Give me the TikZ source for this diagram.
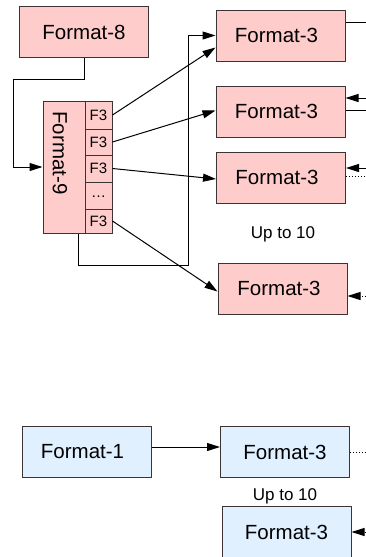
\documentclass[tikz,border=0pt]{standalone}
\usepackage{fontspec}
\setmainfont{Liberation Sans}
\usetikzlibrary{arrows.meta}
\definecolor{pinkfill}{HTML}{FFCCCC}
\definecolor{bluefill}{HTML}{E0F0FF}
\definecolor{edgecol}{HTML}{3C3434}

\begin{document}
\begin{tikzpicture}[x=1pt,y=-1pt,
  fmtbox/.style={draw=edgecol, line width=1pt, minimum width=129pt, minimum height=51pt,
    inner sep=0pt, font=\fontsize{20.5}{24}\selectfont},
  pinkbox/.style={fmtbox, fill=pinkfill},
  bluebox/.style={fmtbox, fill=bluefill},
  cellbox/.style={draw=edgecol, line width=1pt, fill=pinkfill, minimum width=27pt,
    inner sep=0pt, font=\fontsize{15}{18}\selectfont},
  conn/.style={line width=1pt, -{Triangle[length=13pt,width=8pt]}},
  link/.style={line width=1pt},
  dotlink/.style={line width=1pt, dotted},
  dotconn/.style={line width=1pt, dotted, -{Triangle[length=13pt,width=8pt,sep=0pt]}},
  note/.style={font=\fontsize{17}{20}\selectfont}]

\useasboundingbox (0,0) rectangle (366,557);

% upper group
\node[pinkbox] (f8) at (84,32) {Format-8};

\node[draw=edgecol, line width=1pt, fill=pinkfill, minimum width=42pt, minimum height=132pt,
  inner sep=0pt] (f9) at (64,167) {};
\node[rotate=-90, font=\fontsize{20.5}{24}\selectfont] (f9text) at (60,153) {Format-9};

\node[cellbox, minimum height=28pt] (c1) at (98.5,115) {F3};
\node[cellbox, minimum height=26pt] (c2) at (98.5,142) {F3};
\node[cellbox, minimum height=27pt] (c3) at (98.5,168.5) {F3};
\node[cellbox, minimum height=27pt] (c4) at (98.5,195.5) {\raisebox{-3pt}{…}};
\node[cellbox, minimum height=24pt] (c5) at (98.5,221) {F3};

\node[pinkbox] (t1) at (280.5,35.5) {\hspace*{-8pt}Format-3};
\node[pinkbox] (t2) at (280.5,111.5) {\hspace*{-8pt}Format-3};
\node[pinkbox] (t3) at (281,177.5) {\hspace*{-8pt}Format-3};
\node[note] (n1) at (283,234) {Up to 10};
\node[pinkbox] (t4) at (282.5,288.5) {\hspace*{-7pt}Format-3};

% Format-8 feeds Format-9
\coordinate (k1) at (13,79);
\draw[conn] (f8.south) -- (f8.south |- k1) -- (k1) -- (k1 |- f9.west) -- (f9.west);

% loop back from Format-9 to the first Format-3
\coordinate (k2) at (188,265);
\draw[conn] ([xshift=14pt]f9.south) -- ([xshift=14pt]f9.south |- k2) -- (k2)
  -- (k2 |- t1.west) -- (t1.west);

% F3 cells to the Format-3 boxes
\draw[conn] (c1.east) -- ([yshift=-12pt]t1.west);
\draw[conn] (c2.east) -- ([yshift=1pt]t2.west);
\draw[conn] (c3.east) -- ([yshift=-1.5pt]t3.west);
\draw[conn] (c5.east) -- ([yshift=-3pt]t4.west);

% links leaving to the right
\coordinate (r1) at (366,22.7);
\draw[link] (t1.east |- r1) -- (r1);
\coordinate (r2a) at (366,98);
\coordinate (r2b) at (366,110);
\draw[conn] (r2a) -- (t2.east |- r2a);
\draw[link] (t2.east |- r2b) -- (r2b);
\coordinate (r3a) at (366,168);
\coordinate (r3b) at (366,176);
\draw[conn] (r3a) -- (t3.east |- r3a);
\draw[dotlink] (t3.east |- r3b) -- (r3b);
\coordinate (r4) at (366,296);
\draw[dotconn] (r4) -- (t4.east |- r4);

% lower group
\node[bluebox] (f1) at (86.5,452) {\hspace*{-8pt}Format-1};
\node[bluebox] (b1) at (285,452) {Format-3};
\node[note] (n2) at (285,496) {Up to 10};
\node[bluebox] (b2) at (286.5,532) {Format-3};

\draw[conn] ([yshift=5pt]f1.east) -- ([yshift=5pt]b1.west);
\coordinate (r5) at (366,452);
\draw[dotlink] (b1.east) -- (r5);
\coordinate (r6) at (366,532);
\draw[dotconn] (r6) -- (b2.east);
\end{tikzpicture}
\end{document}
